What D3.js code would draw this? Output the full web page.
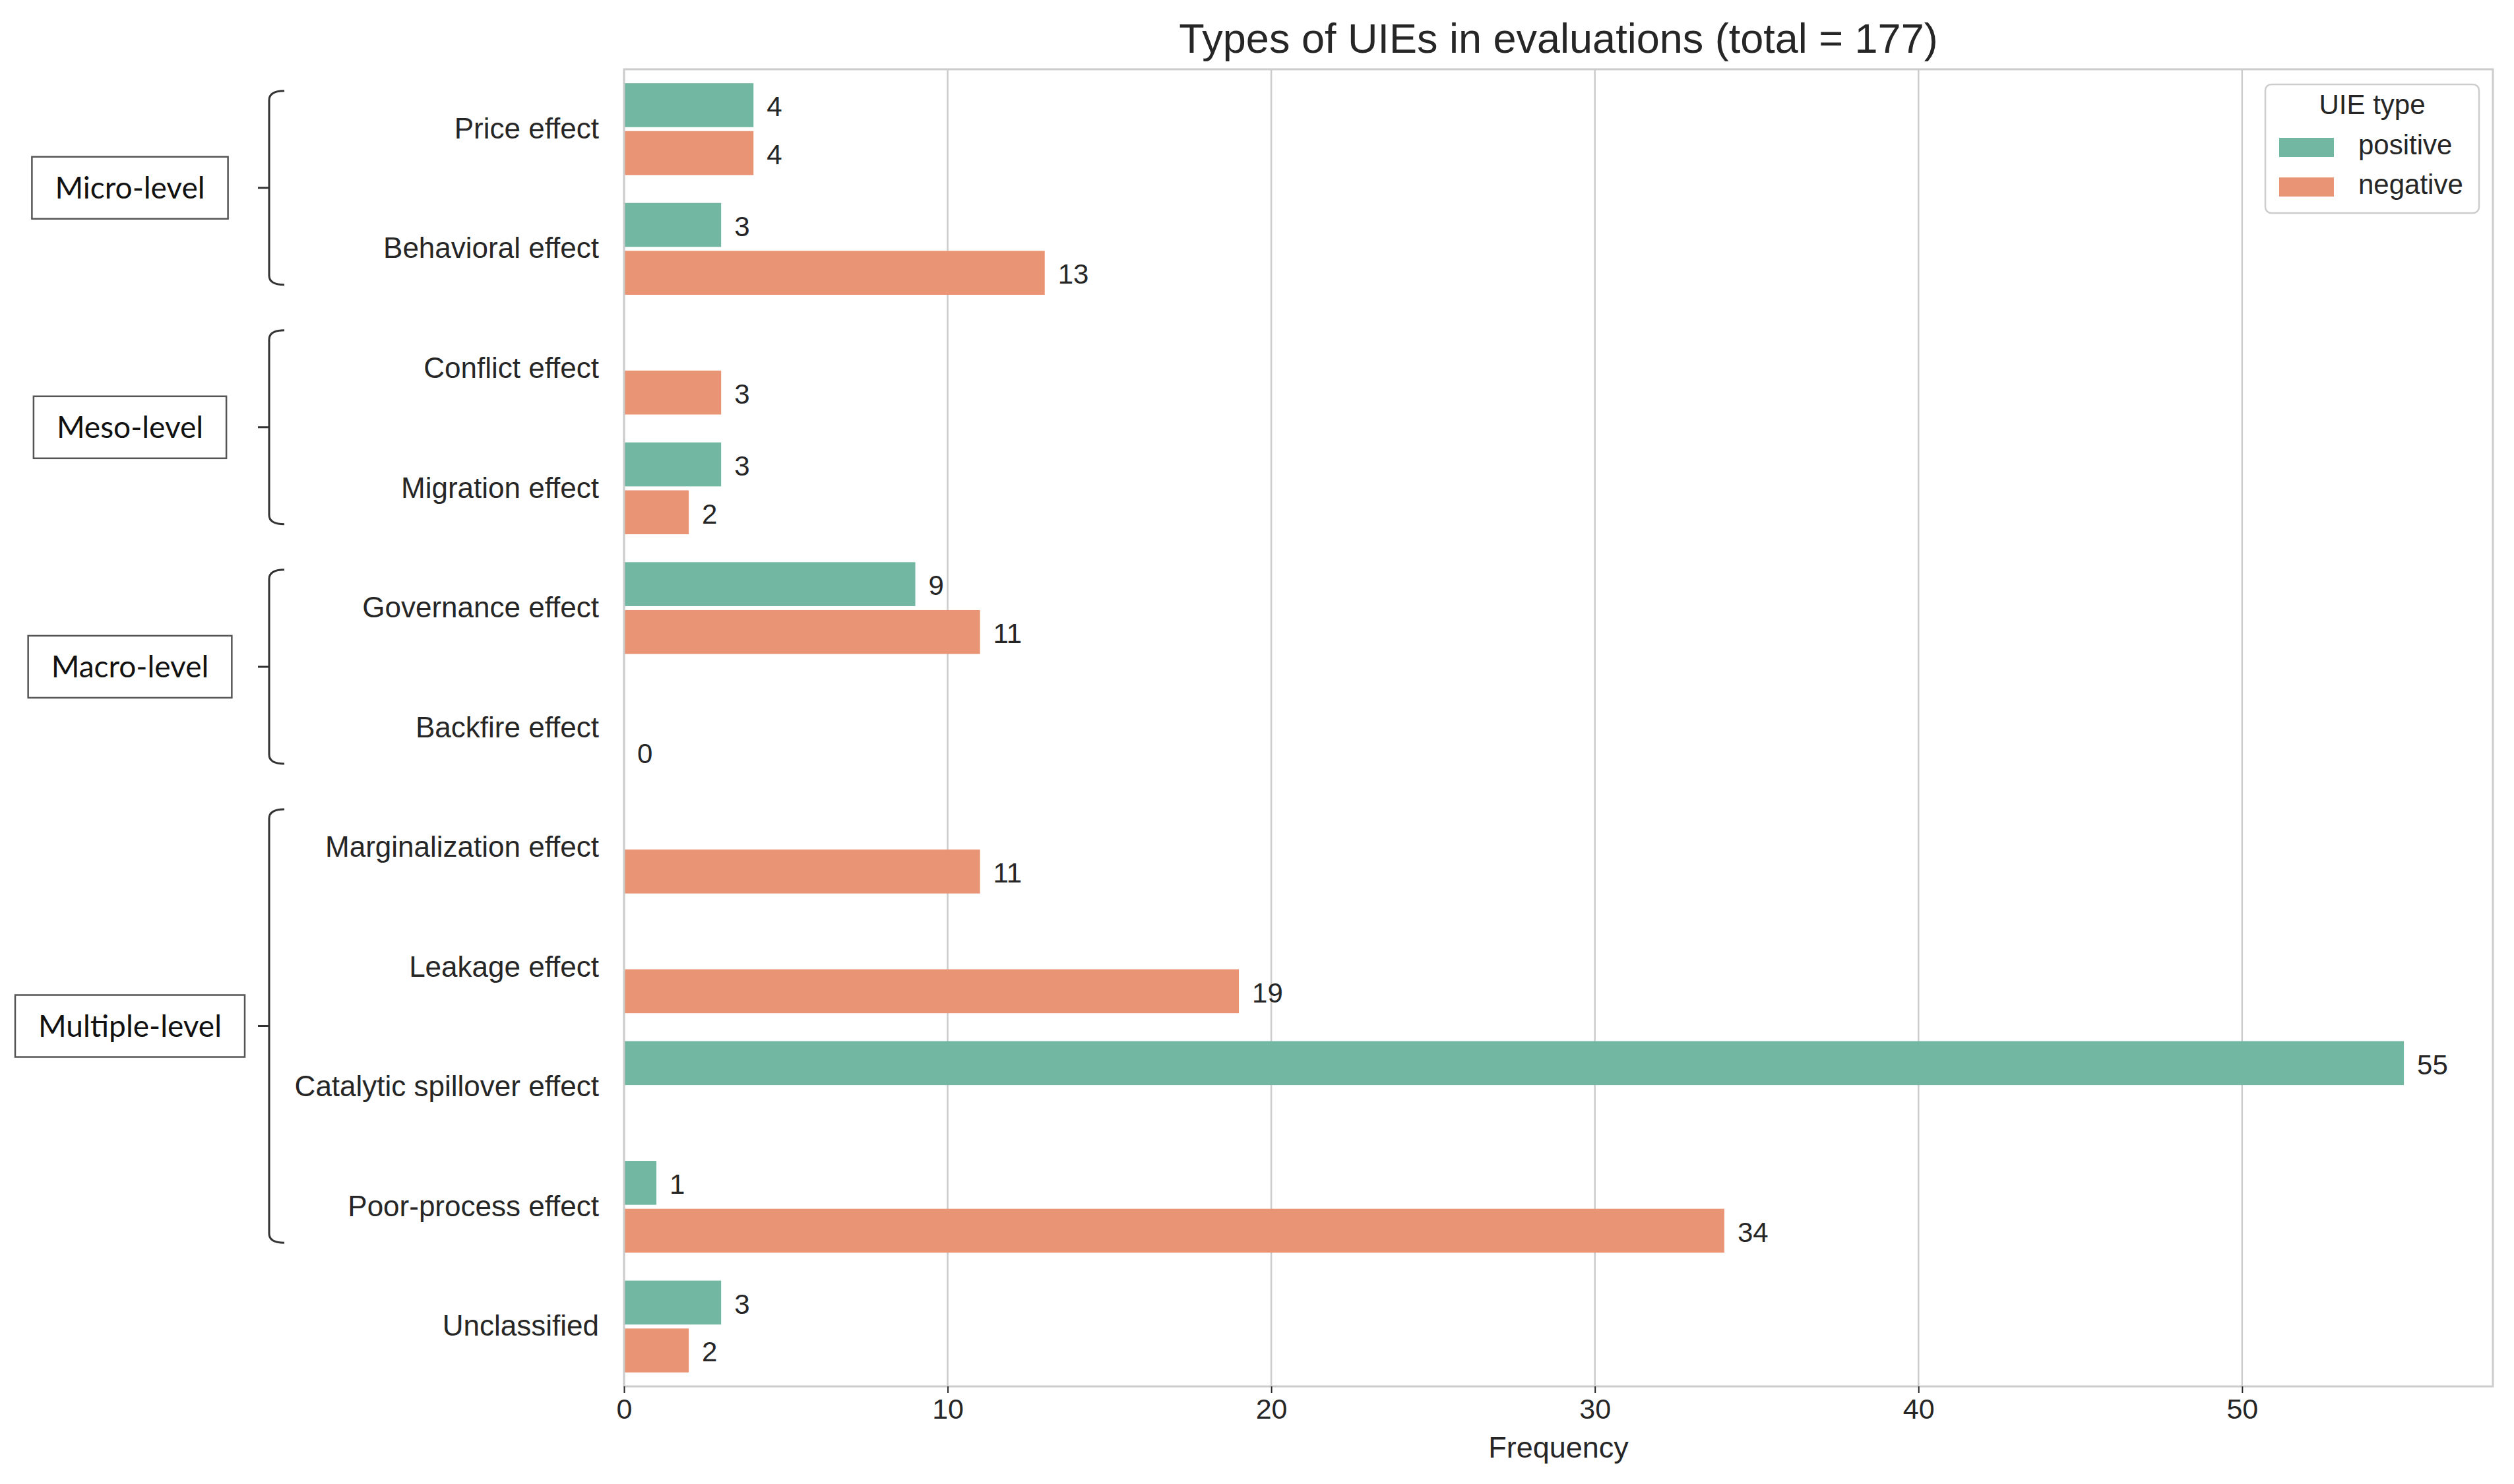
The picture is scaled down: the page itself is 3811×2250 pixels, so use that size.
<!DOCTYPE html>
<html lang="en">
<head>
<meta charset="utf-8">
<style>
  html, body { margin: 0; padding: 0; background: #fff; }
  svg { display: block; font-family: "Liberation Sans", Arial, sans-serif; }
</style>
</head>
<body>
<script src="https://d3js.org/d3.v7.min.js"></script>
<script>
// categories of the y axis, top to bottom
var categories = ['Price effect', 'Behavioral effect', 'Conflict effect', 'Migration effect',
  'Governance effect', 'Backfire effect', 'Marginalization effect', 'Leakage effect',
  'Catalytic spillover effect', 'Poor-process effect', 'Unclassified'];
// counts per UIE type (null = no bar)
var positive = [4, 3, null, 3, 9, null, null, null, 55, 1, 3];
var negative = [4, 13, 3, 2, 11, 0, 11, 19, null, 34, 2];
var types = ['positive', 'negative'];
var xTicks = [0, 10, 20, 30, 40, 50];
// groups of categories drawn with a bracket on the left
var levels = [
  {name: 'Micro-level', first: 'Price effect', last: 'Behavioral effect'},
  {name: 'Meso-level', first: 'Conflict effect', last: 'Migration effect'},
  {name: 'Macro-level', first: 'Governance effect', last: 'Backfire effect'},
  {name: 'Multiple-level', first: 'Marginalization effect', last: 'Poor-process effect'}
];

var W = 3811, H = 2250;
var plot = {left: 946, right: 3779, top: 105, bottom: 2102};
var colors = {positive: '#71b7a1', negative: '#e99575'};
var textCol = '#262626', lineCol = '#cccccc';

var svg = d3.select('body').append('svg')
  .attr('width', W).attr('height', H);

var x = d3.scaleLinear()
  .domain([0, d3.max(positive.concat(negative)) * 1.05])
  .range([plot.left, plot.right]);

var y = d3.scaleBand()
  .domain(categories)
  .range([plot.top, plot.bottom]);
var bw = y.bandwidth();

var sub = d3.scaleBand()
  .domain(types)
  .range([bw * 0.1, bw * 0.9]);

// grid lines
svg.append('g').selectAll('line')
  .data(xTicks)
  .enter().append('line')
  .attr('x1', d => x(d)).attr('x2', d => x(d))
  .attr('y1', plot.top).attr('y2', plot.bottom)
  .attr('stroke', lineCol).attr('stroke-width', 2.5);

// data rows
var rows = [];
categories.forEach(function(c, i) {
  rows.push({cat: c, type: 'positive', value: positive[i]});
  rows.push({cat: c, type: 'negative', value: negative[i]});
});
rows = rows.filter(d => d.value !== null);

svg.append('g').selectAll('rect')
  .data(rows)
  .enter().append('rect')
  .attr('x', x(0))
  .attr('y', d => y(d.cat) + sub(d.type) + 3)
  .attr('width', d => x(d.value) - x(0))
  .attr('height', sub.bandwidth() - 6)
  .attr('fill', d => colors[d.type]);

svg.append('g').selectAll('text')
  .data(rows)
  .enter().append('text')
  .attr('x', d => x(d.value) + 20)
  .attr('y', d => y(d.cat) + sub(d.type) + sub.bandwidth() / 2)
  .attr('dy', '0.4em')
  .attr('font-size', 42)
  .attr('fill', textCol)
  .text(d => d.value);

// spines
svg.append('rect')
  .attr('x', plot.left).attr('y', plot.top)
  .attr('width', plot.right - plot.left).attr('height', plot.bottom - plot.top)
  .attr('fill', 'none').attr('stroke', lineCol).attr('stroke-width', 3);

// y axis labels
var yAxis = svg.append('g')
  .attr('transform', 'translate(' + plot.left + ',0)')
  .call(d3.axisLeft(y).tickSize(0).tickPadding(38));
yAxis.select('.domain').remove();
yAxis.selectAll('text')
  .attr('font-size', 44).attr('font-family', '"Liberation Sans", Arial, sans-serif')
  .attr('fill', textCol);

// x axis
var xAxis = svg.append('g')
  .attr('transform', 'translate(0,' + plot.bottom + ')')
  .call(d3.axisBottom(x).tickValues(xTicks).tickSize(10).tickPadding(8));
xAxis.select('.domain').remove();
xAxis.selectAll('line').attr('stroke', textCol).attr('stroke-width', 2);
xAxis.selectAll('text')
  .attr('font-size', 43).attr('font-family', '"Liberation Sans", Arial, sans-serif')
  .attr('fill', textCol);

svg.append('text')
  .attr('x', (plot.left + plot.right) / 2).attr('y', 2210)
  .attr('text-anchor', 'middle')
  .attr('font-size', 45).attr('fill', textCol)
  .text('Frequency');

// title
svg.append('text')
  .attr('x', (plot.left + plot.right) / 2).attr('y', 80)
  .attr('text-anchor', 'middle')
  .attr('font-size', 63).attr('fill', textCol)
  .text('Types of UIEs in evaluations (total = 177)');

// legend
var leg = svg.append('g');
leg.append('rect')
  .attr('x', 3434).attr('y', 128).attr('width', 324).attr('height', 195)
  .attr('rx', 9).attr('fill', '#fff').attr('fill-opacity', 0.8)
  .attr('stroke', lineCol).attr('stroke-width', 2.5);
leg.append('text')
  .attr('x', 3596).attr('y', 173)
  .attr('text-anchor', 'middle')
  .attr('font-size', 42).attr('fill', textCol)
  .text('UIE type');
var li = leg.selectAll('g.item')
  .data(types)
  .enter().append('g')
  .attr('class', 'item')
  .attr('transform', (d, i) => 'translate(0,' + (i * 60) + ')');
li.append('rect')
  .attr('x', 3455).attr('y', 209).attr('width', 83).attr('height', 29)
  .attr('fill', d => colors[d]);
li.append('text')
  .attr('x', 3575).attr('y', 234)
  .attr('font-size', 42).attr('fill', textCol)
  .text(d => d);

// level brackets and boxes
var bx = 408;
levels.forEach(function(l) {
  var top = y(l.first) + bw * 0.18;
  var bot = y(l.last) + bw * 0.8;
  var mid = (top + bot) / 2;
  var g = svg.append('g');
  g.append('path')
    .attr('d', 'M' + (bx + 23) + ',' + top + ' Q' + bx + ',' + top + ' ' + bx + ',' + (top + 14) +
      ' L' + bx + ',' + (bot - 14) + ' Q' + bx + ',' + bot + ' ' + (bx + 23) + ',' + bot +
      ' M' + (bx - 17) + ',' + mid + ' L' + bx + ',' + mid)
    .attr('fill', 'none').attr('stroke', '#333').attr('stroke-width', 3);
  var t = g.append('text')
    .attr('x', 197).attr('y', mid)
    .attr('dy', '0.35em')
    .attr('text-anchor', 'middle')
    .attr('font-family', 'Lato, "Open Sans", sans-serif')
    .attr('font-size', 46).attr('fill', '#111')
    .text(l.name);
  var tw = t.node().getComputedTextLength();
  g.insert('rect', 'text')
    .attr('x', 197 - tw / 2 - 35).attr('y', mid - 47)
    .attr('width', tw + 70).attr('height', 94)
    .attr('fill', '#fff').attr('stroke', '#555').attr('stroke-width', 2.5);
});
</script>
</body>
</html>
